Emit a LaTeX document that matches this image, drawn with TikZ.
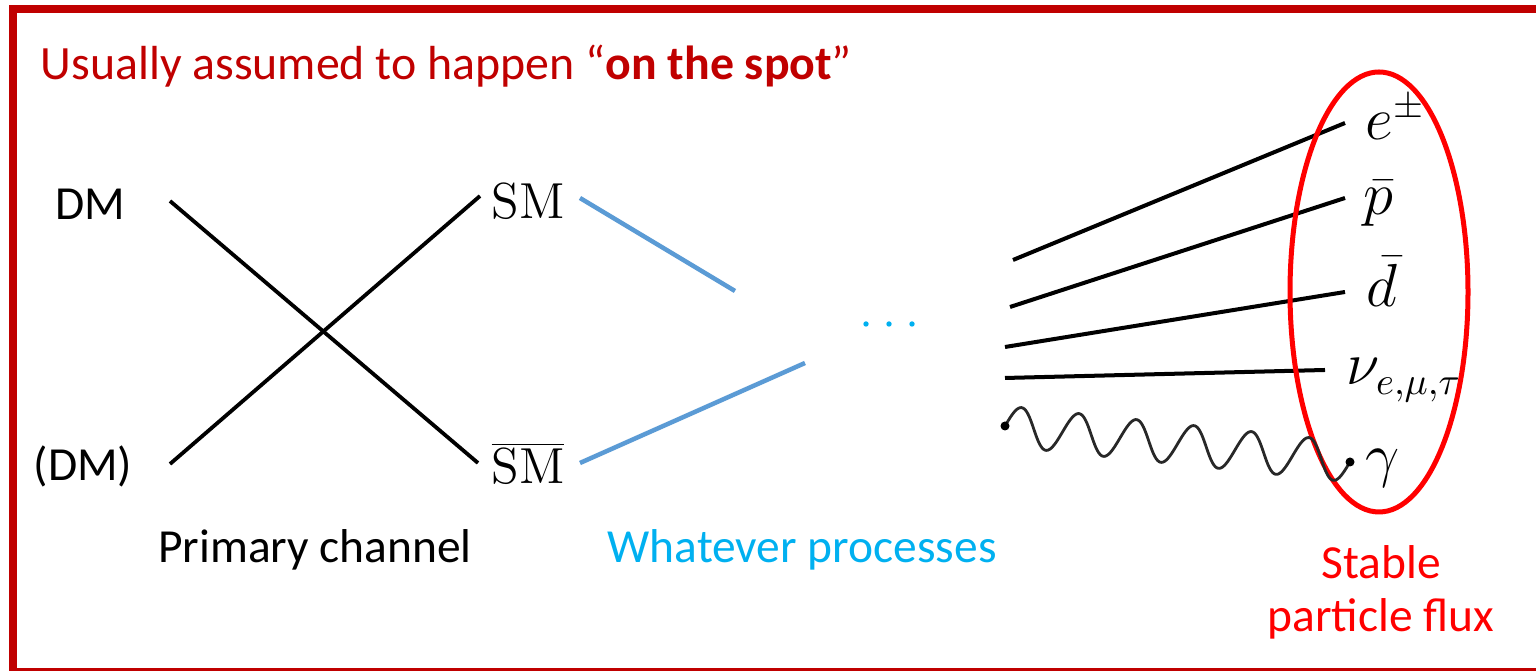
\documentclass[tikz,border=0pt]{standalone}
\usepackage[no-math]{fontspec}
\setmainfont{Carlito}
\definecolor{framered}{RGB}{192,0,0}
\definecolor{fluxred}{RGB}{255,0,0}
\definecolor{procblue}{RGB}{91,155,213}
\definecolor{textblue}{RGB}{0,176,240}
\definecolor{wavegray}{RGB}{40,40,40}
\tikzset{
  label text/.style={inner sep=0pt, font=\fontsize{13.5}{15}\selectfont},
  sm text/.style={inner sep=0pt, font=\fontsize{14.6}{17}\selectfont},
  particle/.style={inner sep=0pt, font=\fontsize{16}{18}\selectfont},
  channel line/.style={line width=0.038cm, black},
  process line/.style={line width=0.045cm, procblue},
  final line/.style={line width=0.04cm, black},
  photon/.style={line width=0.028cm, wavegray, line join=round},
}
\begin{document}
\begin{tikzpicture}[x=0.01cm, y=-0.01cm]
\useasboundingbox (0,0) rectangle (1536,671);
\begin{scope}
\clip (0,0) rectangle (1536,671);
% open frame
\draw[framered, line width=0.08cm] (1600,9) -- (13,9) -- (13,672) -- (1600,672);
\end{scope}

% heading
\node[anchor=base west, inner sep=0pt, text=framered, font=\fontsize{13.6}{16}\selectfont]
  (title) at (40,80) {Usually assumed to happen “\textbf{on the spot}”};

% primary channel
\node[label text] (dm1) at (90,204) {DM};
\node[label text] (dm2) at (83,466) {(DM)};
\node[sm text] (sm1) at (528,201) {$\mathrm{SM}$};
\node[sm text] (sm2) at (528,463) {$\overline{\mathrm{SM}}$};
\coordinate (a1) at (170,201);
\coordinate (a2) at (478,463);
\coordinate (b1) at (170,464);
\coordinate (b2) at (480,196);
\draw[channel line] (a1) -- (a2);
\draw[channel line] (b1) -- (b2);

% intermediate processes
\coordinate (p1s) at (580,198);
\coordinate (p1e) at (735,291);
\coordinate (p2s) at (580,463);
\coordinate (p2e) at (805,363);
\draw[process line] (p1s) -- (p1e);
\draw[process line] (p2s) -- (p2e);
\foreach \x [count=\i] in {866,889,912}
  \fill[textblue] (\x,324) circle[radius=0.027cm] coordinate (dot\i);

% final states
\coordinate (e1) at (1013,260);   \coordinate (e2) at (1345,123);
\coordinate (pb1) at (1010,307);  \coordinate (pb2) at (1345,198);
\coordinate (db1) at (1005,347);  \coordinate (db2) at (1345,292);
\coordinate (nu1) at (1005,378);  \coordinate (nu2) at (1325,370);
\coordinate (g1) at (1005,426);   \coordinate (g2) at (1350,462);
\draw[final line] (e1) -- (e2);
\draw[final line] (pb1) -- (pb2);
\draw[final line] (db1) -- (db2);
\draw[final line] (nu1) -- (nu2);

\node[particle, anchor=base west] (lep) at (1365,140) {$e^{\pm}$};
\node[particle, anchor=base west] (pbar) at (1363,215) {$\bar{p}$};
\node[particle, anchor=base west] (dbar) at (1366,307) {$\bar{d}$};
\node[particle, anchor=base west] (nu) at (1346,385) {$\nu_{e,\mu,\tau}$};
\node[particle, anchor=base west] (gam) at (1365,476) {$\gamma$};

% flux ellipse
\draw[fluxred, line width=0.05cm] (1379,292) ellipse[x radius=89, y radius=220];

% photon: six full wavelengths from g1 to g2 (6.2253 deg per unit = 360/57.83)
\draw[photon, shift={(g1)}]
  plot[domain=0:347, samples=240, smooth]
  ({\x*0.9942 + 20*sin(\x*6.2253)*0.1037},
   {\x*0.1037 - 20*sin(\x*6.2253)*0.9942});
\fill[black] (g1) circle[radius=0.045cm];
\fill[black] (g2) circle[radius=0.045cm];

% captions
\node[label text] (prim) at (315,550) {Primary channel};
\node[label text, text=textblue] (what) at (802,550) {Whatever processes};
\node[label text, text=fluxred, align=center] (flux) at (1381,592)
  {Stable\\particle flux};
\end{tikzpicture}
\end{document}
